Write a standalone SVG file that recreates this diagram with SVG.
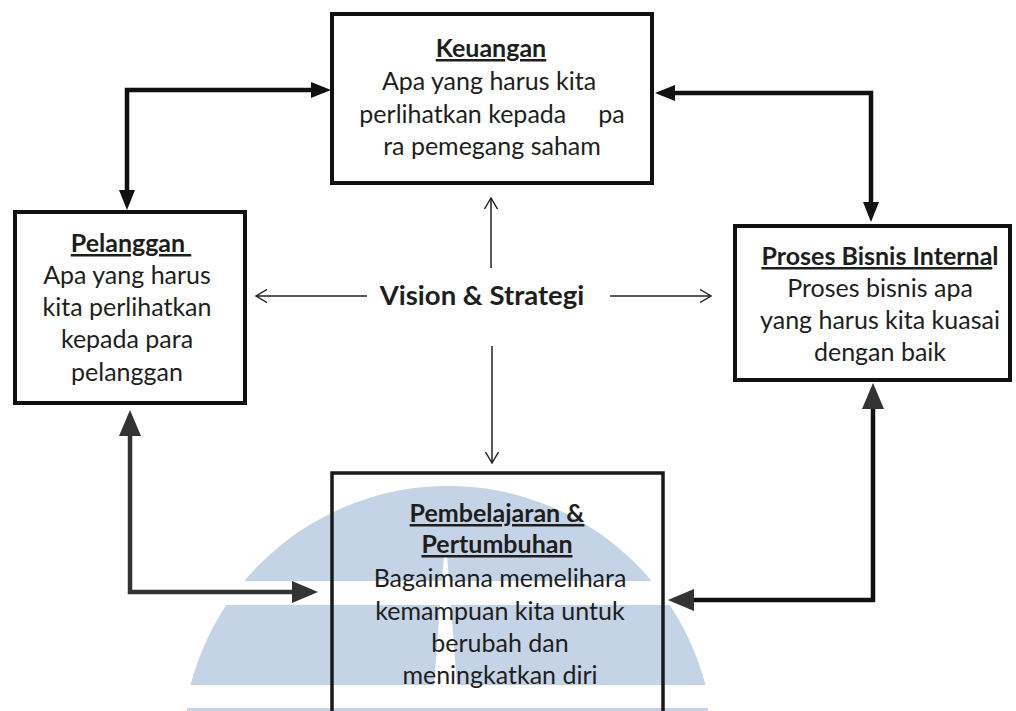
<svg xmlns="http://www.w3.org/2000/svg" width="1016" height="711" viewBox="0 0 1016 711">
<style>
  .box { fill: none; stroke: #111; stroke-width: 4; }
  .t { font-family: Lato, "Liberation Sans", sans-serif; font-size: 25px; fill: #1e1e1e; text-anchor: middle; }
  .h { font-weight: bold; text-decoration: underline; }
  .v { font-family: Lato, "Liberation Sans", sans-serif; font-size: 27.5px; font-weight: bold; fill: #1e1e1e; text-anchor: middle; }
  .thick { fill: none; stroke: #111; stroke-width: 4.5; }
  .thick2 { fill: none; stroke: #333; stroke-width: 4.5; }
  .thin { fill: none; stroke: #222; stroke-width: 1.5; }
  .wm { fill: #c5d3e7; }
</style>
<defs>
  <marker id="ahS" viewBox="0 0 20 16" markerWidth="20" markerHeight="16" refX="14" refY="8" orient="auto-start-reverse" markerUnits="userSpaceOnUse">
    <path d="M0,0 L20,8 L0,16 z" fill="#111"/>
  </marker>
  <marker id="ahB" viewBox="0 0 26 22" markerWidth="26" markerHeight="22" refX="20" refY="11" orient="auto-start-reverse" markerUnits="userSpaceOnUse">
    <path d="M0,0 L26,11 L0,22 z" fill="#333"/>
  </marker>
  <marker id="ahO" viewBox="0 0 12 14" markerWidth="12" markerHeight="14" refX="11" refY="7" orient="auto" markerUnits="userSpaceOnUse">
    <path d="M0,0.5 L11,7 L0,13.5" fill="none" stroke="#222" stroke-width="1.4"/>
  </marker>
  <clipPath id="wmClip">
    <rect x="0" y="0" width="1016" height="581"/>
    <rect x="0" y="605" width="1016" height="80"/>
  </clipPath>
</defs>

<g id="watermark">
  <circle class="wm" cx="448" cy="752" r="266" clip-path="url(#wmClip)"/>
  <rect class="wm" x="187" y="708" width="521" height="3"/>
  <polygon points="444,555 447,555 457,685 434,685" fill="#ffffff"/>
</g>

<g id="connectors">
  <path class="thick" d="M 325 90 H 127 V 204" marker-start="url(#ahS)" marker-end="url(#ahS)"/>
  <path class="thick" d="M 661 93 H 871 V 216" marker-start="url(#ahS)" marker-end="url(#ahS)"/>
  <path class="thick2" d="M 130 416 V 592 H 312" marker-start="url(#ahB)" marker-end="url(#ahB)"/>
  <path class="thick" d="M 873 389 V 600 H 674" marker-start="url(#ahB)" marker-end="url(#ahB)"/>
  <path class="thin" d="M 491 268 V 198" marker-end="url(#ahO)"/>
  <path class="thin" d="M 367 296 H 256" marker-end="url(#ahO)"/>
  <path class="thin" d="M 610 296 H 711" marker-end="url(#ahO)"/>
  <path class="thin" d="M 492 346 V 463" marker-end="url(#ahO)"/>
</g>

<g id="node-keuangan">
  <rect class="box" x="332" y="14" width="320" height="169"/>
  <text class="t h" x="491" y="57">Keuangan</text>
  <text class="t" x="489" y="90">Apa yang harus kita</text>
  <text class="t" x="492" y="123" xml:space="preserve">perlihatkan kepada     pa</text>
  <text class="t" x="492" y="155">ra pemegang saham</text>
</g>

<g id="node-pelanggan">
  <rect class="box" x="15" y="212" width="230" height="191"/>
  <text class="t h" x="131" y="252" xml:space="preserve">Pelanggan </text>
  <text class="t" x="127" y="284">Apa yang harus</text>
  <text class="t" x="127" y="316">kita perlihatkan</text>
  <text class="t" x="127" y="348">kepada para</text>
  <text class="t" x="127" y="381">pelanggan</text>
</g>

<g id="node-proses">
  <rect class="box" x="735" y="226" width="275" height="154"/>
  <text class="t" x="880" y="265"><tspan class="h">Proses Bisnis Interna</tspan><tspan font-weight="bold">l</tspan></text>
  <text class="t" x="880" y="297">Proses bisnis apa</text>
  <text class="t" x="880" y="329">yang harus kita kuasai</text>
  <text class="t" x="880" y="361">dengan baik</text>
</g>

<g id="node-pembelajaran">
  <rect class="box" x="332" y="473" width="331" height="245" style="stroke:#1a1a1a;stroke-width:3.5"/>
  <text class="t h" x="497" y="522">Pembelajaran &amp;</text>
  <text class="t h" x="497" y="553">Pertumbuhan</text>
  <text class="t" x="500" y="587">Bagaimana memelihara</text>
  <text class="t" x="500" y="620">kemampuan kita untuk</text>
  <text class="t" x="500" y="652">berubah dan</text>
  <text class="t" x="500" y="684">meningkatkan diri</text>
</g>

<g id="node-vision">
  <text class="v" x="482" y="305">Vision &amp; Strategi</text>
</g>
</svg>
